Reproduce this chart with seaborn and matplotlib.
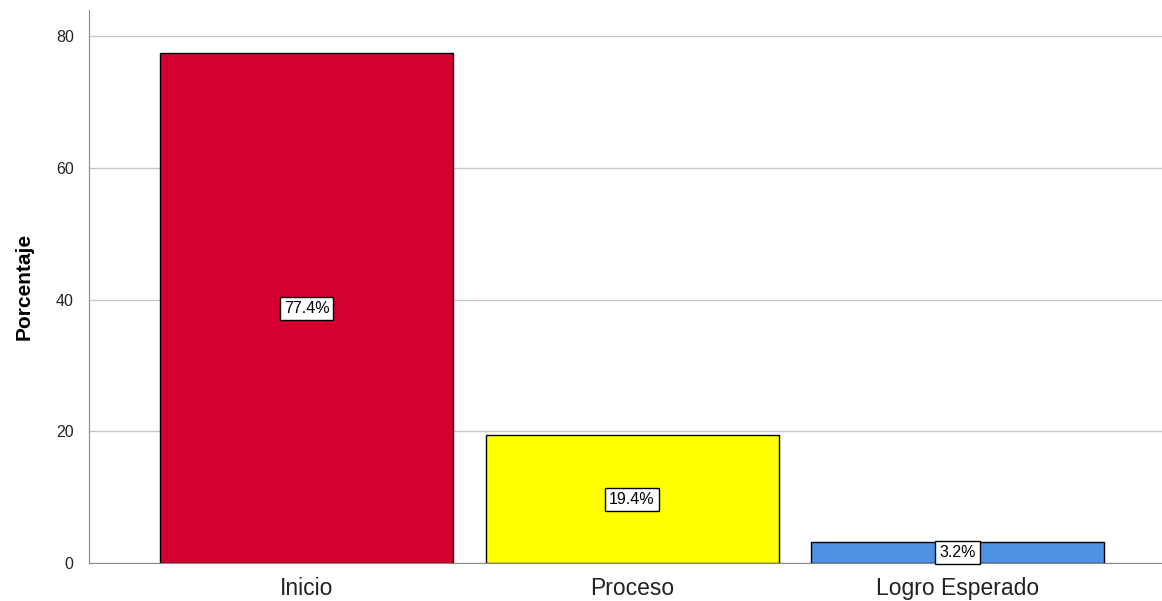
import numpy as np
import pandas as pd
import seaborn as sns
import matplotlib.pyplot as plt

categorias = ['Inicio', 'Proceso', 'Logro Esperado']
porcentajes = [77.4, 19.4, 3.2]
colores = ['#D50032', '#FFFF00', '#4F91E3']
y_ticks = [0, 20, 40, 60, 80]

df = pd.DataFrame({'Nivel': categorias, 'Porcentaje': porcentajes})

sns.set_style('white')
plt.rcParams['font.family'] = ['Liberation Sans', 'DejaVu Sans']
plt.rcParams['text.color'] = 'black'
plt.rcParams['axes.labelcolor'] = 'black'
plt.rcParams['xtick.color'] = '#222222'
plt.rcParams['ytick.color'] = '#222222'

fig = plt.figure(figsize=(11.62, 6.01), dpi=100)
ax = fig.add_axes([0.0766, 0.0632, 0.9234, 0.9201])

sns.barplot(data=df, x='Nivel', y='Porcentaje', hue='Nivel', palette=colores,
            saturation=1, width=0.9, edgecolor='black', linewidth=1, legend=False, ax=ax)

ax.set_ylim(0, 84)
ax.set_xlim(-0.668, 2.628)
ax.set_yticks(y_ticks)
ax.set_yticklabels([str(t) for t in y_ticks], fontsize=11.5)
ax.yaxis.grid(True, color='#c8c8c8', linewidth=1)
ax.set_axisbelow(True)
ax.tick_params(axis='y', length=5, color='#888888', pad=6)
ax.tick_params(axis='x', length=0, labelsize=16.5, pad=10)
for s in ['top', 'right']:
    ax.spines[s].set_visible(False)
for s in ['left', 'bottom']:
    ax.spines[s].set_color('#888888')
ax.set_xlabel('')
ax.set_ylabel('Porcentaje', fontsize=15, fontweight='bold', labelpad=16)

for i, v in enumerate(porcentajes):
    ax.text(i, v / 2, f'{v}%', ha='center', va='center', fontsize=11.5,
            bbox=dict(boxstyle='square,pad=0.25', facecolor='white', edgecolor='black', linewidth=1))

fig.savefig('out.png', dpi=100)
